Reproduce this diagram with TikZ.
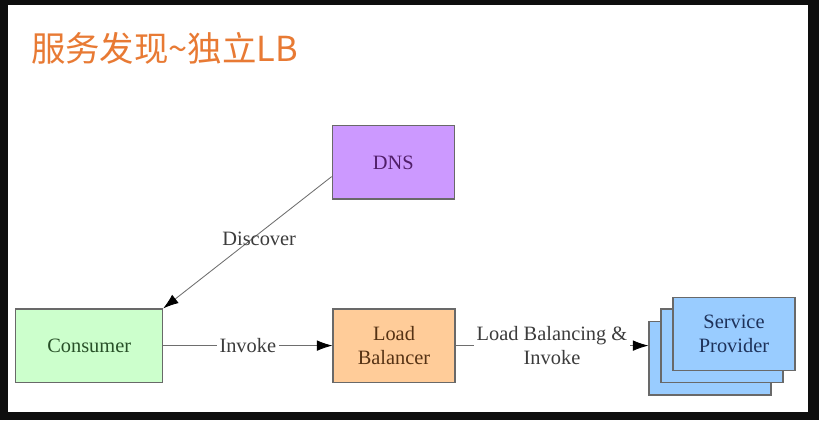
\documentclass[tikz,border=0pt]{standalone}
\usepackage{fontspec}
\setmainfont{Liberation Serif}
\newfontfamily\cjk{Noto Sans CJK SC}
\definecolor{sdframe}{RGB}{14,14,14}
\definecolor{sdorange}{RGB}{232,122,52}
\definecolor{sdpurple}{RGB}{204,153,255}
\definecolor{sdpurpletext}{RGB}{80,30,105}
\definecolor{sdgreen}{RGB}{204,255,204}
\definecolor{sdgreentext}{RGB}{40,80,40}
\definecolor{sdpeach}{RGB}{255,204,153}
\definecolor{sdpeachtext}{RGB}{85,50,20}
\definecolor{sdblue}{RGB}{153,204,255}
\definecolor{sdbluetext}{RGB}{30,50,90}
\definecolor{sdborder}{RGB}{105,105,105}
\definecolor{sdline}{RGB}{110,110,110}
\definecolor{sdtext}{RGB}{60,60,60}
\usetikzlibrary{arrows.meta,positioning,calc}

\begin{document}
\begin{tikzpicture}[
  box/.style={draw=sdborder,line width=0.8pt,minimum width=3.05cm,minimum height=1.83cm,align=center,font=\fontsize{14.5}{17}\selectfont},
  link/.style={draw=sdline,line width=0.6pt,-{Latex[length=11pt,width=7.5pt,color=black]}},
  lbl/.style={inner sep=2pt,font=\fontsize{14.5}{17}\selectfont,text=sdtext,align=center}]
  % Frame
  \fill[sdframe] (0,0) rectangle (20.475,10.5);
  \fill[white] (0.2,0.2) rectangle (20.2,10.375);
  % Title
  \node[anchor=west,inner sep=0,font={\cjk\fontsize{24.5}{28}\selectfont},text=sdorange] (title) at (0.77,9.29) {服务发现\textasciitilde 独立LB};
  % Boxes
  \node[box,fill=sdpurple,text=sdpurpletext] (dns) at (9.83,6.44) {DNS};
  \node[box,fill=sdgreen,text=sdgreentext,minimum width=3.67cm] (con) at (2.23,1.86) {Consumer};
  \node[box,fill=sdpeach,text=sdpeachtext] (lb) at (9.85,1.86) {Load\\Balancer};
  % Service provider stack
  \foreach \i/\x/\y in {3/17.75/1.54,2/18.05/1.86}{
    \node[box,fill=sdblue] (sp\i) at (\x,\y) {};
  }
  \node[box,fill=sdblue,text=sdbluetext] (sp1) at (18.35,2.15) {Service\\Provider};
  % Connectors
  \draw[link] (dns.193) -- node[lbl,pos=0.43,yshift=-0.13cm] {Discover} (con.north east);
  \draw[link] (con) -- node[lbl,fill=white] {Invoke} (lb);
  \draw[link] (lb) -- node[lbl,fill=white] {Load Balancing \&\\Invoke} (sp3.west |- lb);
\end{tikzpicture}
\end{document}
